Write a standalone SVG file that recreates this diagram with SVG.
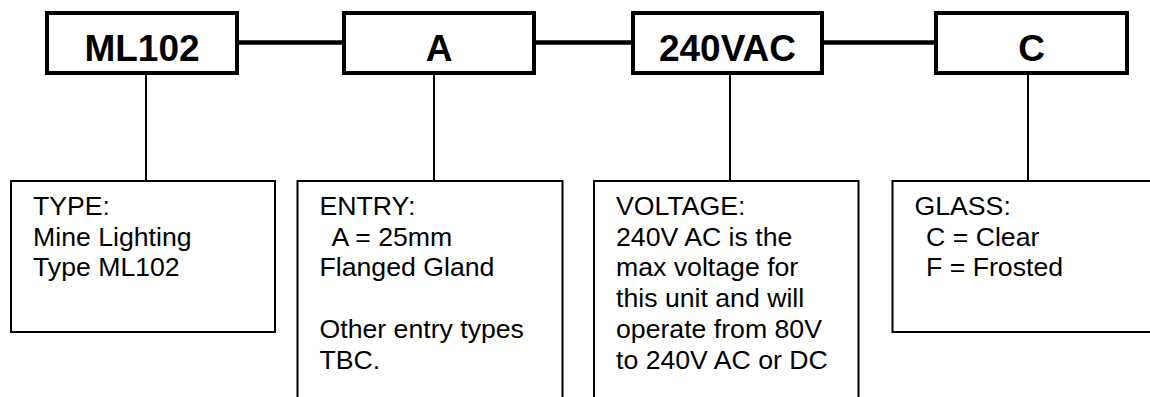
<svg xmlns="http://www.w3.org/2000/svg" width="1150" height="397" viewBox="0 0 1150 397">
<style>
.top{fill:#fff;stroke:#000;stroke-width:4}
.bot{fill:#fff;stroke:#000;stroke-width:2}
.lbl{font-family:"Liberation Sans",Arial,sans-serif;font-weight:bold;font-size:37px;fill:#000;text-anchor:middle}
.txt{font-family:"Liberation Sans",Arial,sans-serif;font-size:26.67px;fill:#000}
.thick{stroke:#000;stroke-width:4.5;fill:none}
.thin{stroke:#000;stroke-width:2;fill:none}
</style>
<rect width="1150" height="397" fill="#fff"/>
<g id="connectors">
<line class="thick" x1="239" y1="42.5" x2="342" y2="42.5"/>
<line class="thick" x1="535" y1="42.5" x2="631" y2="42.5"/>
<line class="thick" x1="824" y1="42.5" x2="934" y2="42.5"/>
<line class="thin" x1="146" y1="75" x2="146" y2="181"/>
<line class="thin" x1="434" y1="75" x2="434" y2="181"/>
<line class="thin" x1="730" y1="75" x2="730" y2="181"/>
<line class="thin" x1="1028" y1="75" x2="1028" y2="181"/>
</g>
<g id="node-ml102">
<rect class="top" x="47" y="13" width="190" height="60"/>
<text class="lbl" x="142" y="61">ML102</text>
</g>
<g id="node-a">
<rect class="top" x="344" y="13" width="190" height="60"/>
<text class="lbl" x="439" y="61">A</text>
</g>
<g id="node-240vac">
<rect class="top" x="633" y="13" width="189" height="60"/>
<text class="lbl" x="727.5" y="61">240VAC</text>
</g>
<g id="node-c">
<rect class="top" x="936" y="13" width="191" height="60"/>
<text class="lbl" x="1031.5" y="61">C</text>
</g>
<g id="node-type">
<rect class="bot" x="11" y="181" width="264" height="151"/>
<text class="txt"><tspan x="33" y="215">TYPE:</tspan><tspan x="33" y="245.7">Mine Lighting</tspan><tspan x="33" y="276.4">Type ML102</tspan></text>
</g>
<g id="node-entry">
<rect class="bot" x="297.5" y="181" width="265" height="240"/>
<text class="txt"><tspan x="319.5" y="215">ENTRY:</tspan><tspan x="331.5" y="245.7">A = 25mm</tspan><tspan x="319.5" y="276.4">Flanged Gland</tspan><tspan x="319.5" y="337.8">Other entry types</tspan><tspan x="319.5" y="368.5">TBC.</tspan></text>
</g>
<g id="node-voltage">
<rect class="bot" x="594" y="181" width="264.5" height="240"/>
<text class="txt"><tspan x="616" y="215">VOLTAGE:</tspan><tspan x="616" y="245.7">240V AC is the</tspan><tspan x="616" y="276.4">max voltage for</tspan><tspan x="616" y="307.1">this unit and will</tspan><tspan x="616" y="337.8">operate from 80V</tspan><tspan x="616" y="368.5">to 240V AC or DC</tspan></text>
</g>
<g id="node-glass">
<rect class="bot" x="892.5" y="181" width="280" height="151"/>
<text class="txt"><tspan x="914.5" y="215">GLASS:</tspan><tspan x="926" y="245.7">C = Clear</tspan><tspan x="926" y="276.4">F = Frosted</tspan></text>
</g>
</svg>
